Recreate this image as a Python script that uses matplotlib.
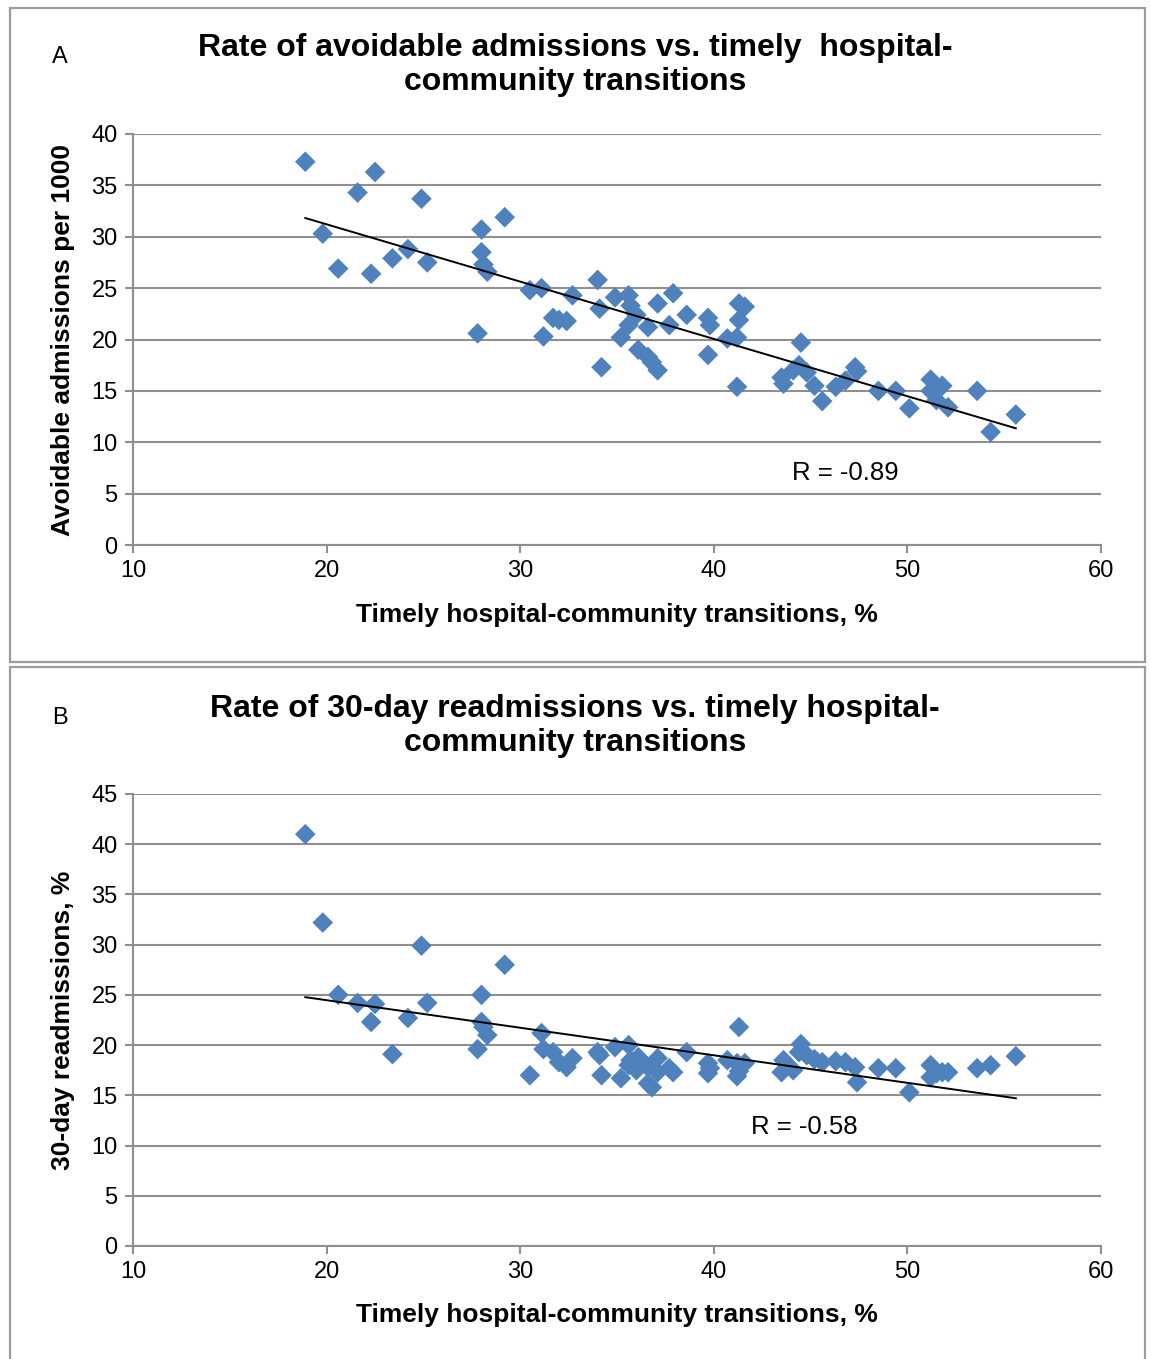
import numpy as np
import matplotlib
matplotlib.use("Agg")
from matplotlib import pyplot as plt
from matplotlib.patches import Rectangle

plt.rcParams['font.family'] = ['Liberation Sans', 'DejaVu Sans']

# timely hospital-community transitions, %  (same hospitals in both panels)
transitions = [18.9, 19.8, 20.6, 21.6, 22.3, 22.5, 23.4, 24.2, 24.9, 25.2,
               27.8, 28.0, 28.0, 28.1, 28.3, 29.2, 30.5, 31.1, 31.2, 31.7,
               32.0, 32.4, 32.7, 34.0, 34.1, 34.2, 34.9, 35.2, 35.6, 35.7,
               35.6, 36.0, 36.1, 36.6, 36.6, 36.8, 37.1, 37.1, 37.7, 37.9,
               38.6, 39.7, 39.7, 39.8, 40.7, 41.2, 41.2, 41.3, 41.3, 41.6,
               43.5, 43.6, 44.1, 44.5, 44.4, 44.8, 45.2, 45.6, 46.3, 46.8,
               47.3, 47.4, 48.5, 49.4, 50.1, 51.2, 51.2, 51.5, 51.8, 52.1,
               53.6, 54.3, 55.6]
# avoidable admissions per 1000
avoidable = [37.3, 30.3, 26.9, 34.3, 26.4, 36.3, 27.9, 28.8, 33.7, 27.5,
             20.6, 30.7, 28.5, 27.3, 26.6, 31.9, 24.8, 25.0, 20.3, 22.1,
             21.9, 21.8, 24.3, 25.8, 23.0, 17.3, 24.1, 20.2, 24.3, 23.3,
             21.4, 22.4, 19.0, 21.2, 18.3, 17.8, 17.0, 23.5, 21.4, 24.5,
             22.4, 18.5, 22.1, 21.4, 20.1, 20.2, 15.4, 23.5, 21.9, 23.2,
             16.3, 15.7, 17.0, 19.7, 17.5, 16.8, 15.5, 14.0, 15.4, 16.0,
             17.3, 16.9, 15.0, 15.0, 13.3, 16.1, 15.0, 14.1, 15.5, 13.4,
             15.0, 11.0, 12.7]
# 30-day readmissions, %
readmit = [41.0, 32.2, 25.0, 24.2, 22.3, 24.1, 19.1, 22.7, 29.9, 24.2,
           19.6, 25.0, 22.3, 21.8, 21.0, 28.0, 17.0, 21.2, 19.6, 19.3,
           18.3, 17.8, 18.7, 19.3, 19.0, 17.0, 19.8, 16.7, 20.0, 18.5,
           18.0, 17.5, 18.8, 17.8, 16.2, 15.8, 17.3, 18.7, 17.7, 17.3,
           19.3, 17.2, 18.2, 17.7, 18.5, 18.2, 16.9, 21.8, 17.4, 18.2,
           17.3, 18.5, 17.5, 20.1, 19.3, 19.0, 18.6, 18.3, 18.4, 18.3,
           17.8, 16.3, 17.7, 17.7, 15.3, 18.0, 16.8, 17.2, 17.3, 17.3,
           17.7, 18.0, 18.9]

panels = [
    dict(letter="A", y=avoidable, ymax=40,
         title="Rate of avoidable admissions vs. timely  hospital-\ncommunity transitions",
         ylabel="Avoidable admissions per 1000", r="R = -0.89", rpos=(46.8, 7.0),
         rect=[133/1150, 1-545/1359, 968/1150, 411/1359],
         frame=(8, 662), title_y=65, xlab_y=615),
    dict(letter="B", y=readmit, ymax=45,
         title="Rate of 30-day readmissions vs. timely hospital-\ncommunity transitions",
         ylabel="30-day readmissions, %", r="R = -0.58", rpos=(44.7, 11.8),
         rect=[133/1150, 1-1246/1359, 968/1150, 452/1359],
         frame=(667, 1372), title_y=726, xlab_y=1315),
]

fig = plt.figure(figsize=(11.5, 13.59), dpi=100)
W, H = 1150, 1359
x = np.array(transitions)

for p in panels:
    top, bot = p["frame"]
    fig.patches.append(Rectangle((10/W, 1-bot/H), 1135/W, (bot-top)/H,
                                 transform=fig.transFigure, fill=False,
                                 edgecolor="#9c9c9c", linewidth=1.6))
    ax = fig.add_axes(p["rect"])
    y = np.array(p["y"])
    ax.scatter(x, y, marker="D", s=110, color="#4F81BD", edgecolors="none", zorder=3)
    m, b = np.polyfit(x, y, 1)
    xs = np.array([x.min(), x.max()])
    ax.plot(xs, m*xs+b, color="black", lw=1.4, zorder=4)

    ax.set_xlim(10, 60)
    ax.set_ylim(0, p["ymax"])
    ax.set_xticks(range(10, 61, 10))
    ax.set_yticks(range(0, p["ymax"]+1, 5))
    ax.yaxis.grid(True, color="#8f8f8f", lw=1.5)
    ax.set_axisbelow(True)
    for s in ["top", "right"]:
        ax.spines[s].set_visible(False)
    for s in ["left", "bottom"]:
        ax.spines[s].set_color("#8f8f8f")
        ax.spines[s].set_linewidth(1.5)
    ax.tick_params(colors="#8f8f8f", width=1.5, length=6, labelcolor="black",
                   labelsize=17, pad=5)
    ax.set_ylabel(p["ylabel"], fontsize=19, fontweight="bold")
    ax.yaxis.set_label_coords(-58/968, 0.5)
    ax.text(*p["rpos"], p["r"], fontsize=18.5, ha="center", va="center")

    fig.text(0.5, 1-p["title_y"]/H, p["title"], fontsize=23, fontweight="bold",
             ha="center", va="center", linespacing=1.2)
    fig.text(60/W, 1-(p["title_y"]-8)/H, p["letter"], fontsize=17, ha="center", va="center")
    fig.text(617/W, 1-p["xlab_y"]/H, "Timely hospital-community transitions, %",
             fontsize=19, fontweight="bold", ha="center", va="center")

fig.savefig("out.png", dpi=100)
